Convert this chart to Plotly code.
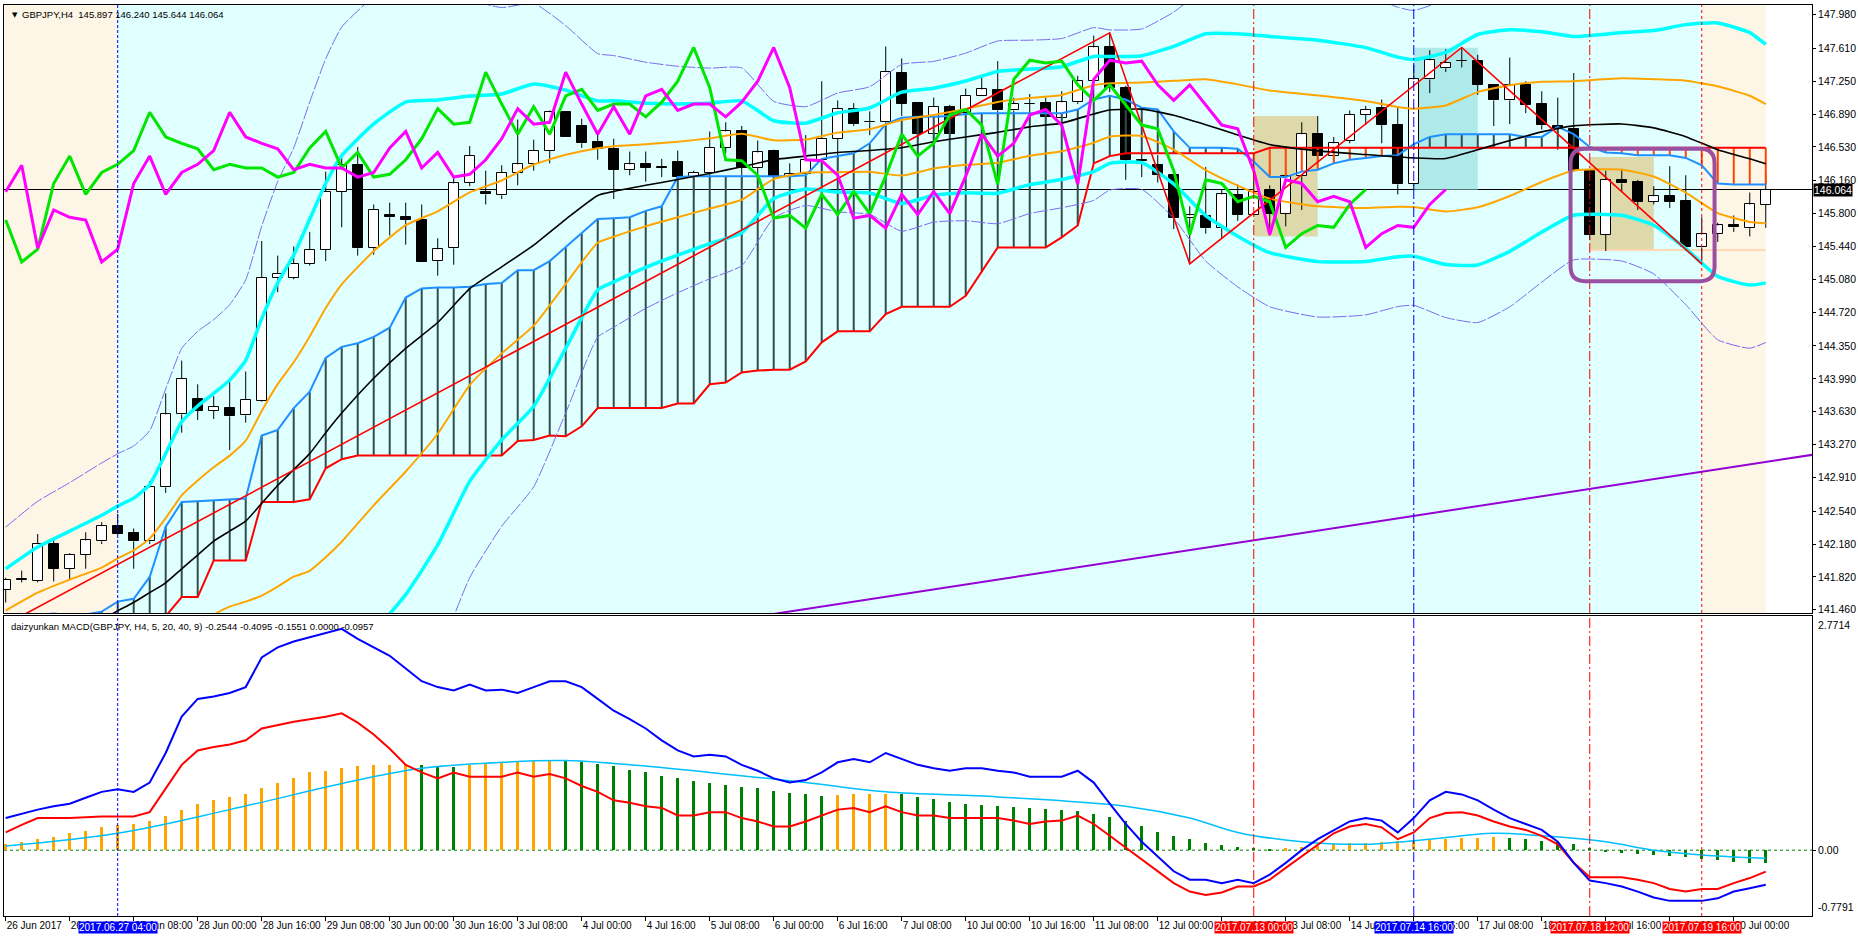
import plotly.graph_objects as go

# ---------------- data ----------------
tick_bars = list(range(0, 111, 4))
tick_labels = ["26 Jun 2017", "26 Jun 16:00", "27 Jun 08:00", "28 Jun 00:00", "28 Jun 16:00",
               "29 Jun 08:00", "30 Jun 00:00", "30 Jun 16:00", "3 Jul 08:00", "4 Jul 00:00",
               "4 Jul 16:00", "5 Jul 08:00", "6 Jul 00:00", "6 Jul 16:00", "7 Jul 08:00",
               "10 Jul 00:00", "10 Jul 16:00", "11 Jul 08:00", "12 Jul 00:00", "12 Jul 16:00",
               "13 Jul 08:00", "14 Jul 00:00", "14 Jul 16:00", "17 Jul 08:00", "18 Jul 00:00",
               "18 Jul 16:00", "19 Jul 08:00", "20 Jul 00:00"]

price_ticks = [147.980, 147.610, 147.250, 146.890, 146.530, 146.160, 145.800, 145.440, 145.080,
               144.720, 144.350, 143.990, 143.630, 143.270, 142.910, 142.540, 142.180, 141.820, 141.460]
macd_max, macd_min = 2.7714, -0.7791

opens = [141.68, 141.79, 141.78, 142.18, 141.91, 142.06, 142.21, 142.38, 142.30, 142.21,
         142.80, 143.60, 143.77, 143.64, 143.67, 143.59, 143.75, 145.09, 145.10, 145.25,
         145.40, 146.04, 146.33, 145.42, 145.79, 145.76, 145.73, 145.28, 145.42, 146.14,
         146.04, 146.00, 146.25, 146.34, 146.49, 146.91, 146.76, 146.58, 146.51, 146.28,
         146.34, 146.31, 146.36, 146.20, 146.25, 146.52, 146.70, 146.30, 146.49, 146.20,
         146.23, 146.39, 146.62, 146.95, 146.80, 146.80, 147.34, 147.01, 146.67, 146.97,
         146.90, 147.09, 147.15, 146.93, 147.00, 147.01, 146.85, 147.02, 147.25, 147.62,
         147.18, 146.39, 146.33, 146.22, 145.75, 145.77, 145.64, 146.00, 145.79, 146.06,
         145.80, 146.21, 146.67, 146.43, 146.60, 146.88, 146.96, 146.77, 146.12, 147.27,
         147.39, 147.47, 147.47, 147.21, 147.04, 147.21, 147.00, 146.76, 146.73, 146.27,
         145.57, 146.17, 146.15, 145.93, 145.99, 145.94, 145.43, 145.58, 145.67, 145.64,
         145.897]
highs = [141.81, 141.89, 142.29, 142.24, 142.08, 142.31, 142.42, 142.51, 142.35, 142.87,
         143.83, 144.19, 143.93, 143.80, 143.98, 144.07, 145.50, 145.34, 145.44, 145.60,
         146.26, 146.46, 146.53, 145.90, 145.92, 145.92, 145.90, 145.53, 146.20, 146.54,
         146.27, 146.33, 146.83, 146.61, 146.93, 146.92, 146.84, 146.67, 146.62, 146.48,
         146.48, 146.40, 146.49, 146.27, 146.70, 146.80, 146.76, 146.60, 146.50, 146.35,
         146.66, 147.25, 147.04, 147.01, 146.92, 147.63, 147.50, 147.01, 147.07, 146.99,
         147.17, 147.31, 147.47, 147.07, 147.11, 147.07, 147.14, 147.31, 147.75, 147.78,
         147.20, 146.51, 146.44, 146.23, 145.88, 146.31, 146.06, 146.12, 146.37, 146.11,
         146.23, 146.80, 146.87, 146.64, 146.93, 146.98, 147.05, 146.97, 147.43, 147.59,
         147.60, 147.62, 147.54, 147.21, 147.51, 147.25, 147.14, 147.07, 147.34, 146.29,
         146.27, 146.29, 146.17, 146.10, 146.32, 146.22, 145.76, 145.70, 145.78, 146.03,
         146.240]
lows = [141.54, 141.76, 141.76, 141.77, 141.79, 141.91, 142.18, 142.28, 141.91, 142.18,
        142.74, 143.40, 143.54, 143.55, 143.21, 143.51, 143.74, 144.94, 145.08, 145.23,
        145.28, 145.65, 145.34, 145.35, 145.56, 145.46, 145.27, 145.12, 145.24, 146.10,
        145.90, 145.96, 146.11, 146.27, 146.35, 146.64, 146.52, 146.39, 145.96, 146.22,
        146.15, 146.20, 146.01, 146.00, 146.15, 146.46, 146.09, 146.13, 146.18, 146.09,
        146.15, 146.26, 146.15, 146.76, 146.66, 146.78, 146.87, 146.39, 146.49, 146.65,
        146.87, 147.09, 146.87, 146.78, 146.72, 146.85, 146.83, 147.00, 147.05, 147.13,
        146.17, 146.20, 146.14, 145.63, 145.25, 145.58, 145.53, 145.72, 145.78, 145.56,
        145.66, 145.84, 146.37, 146.36, 146.57, 146.77, 146.57, 146.01, 146.06, 147.12,
        147.35, 147.40, 147.10, 146.76, 146.78, 146.90, 146.72, 146.50, 146.26, 145.51,
        145.39, 146.04, 145.84, 145.90, 145.86, 145.39, 145.25, 145.49, 145.60, 145.55,
        145.644]
closes = [141.79, 141.80, 142.18, 141.91, 142.06, 142.22, 142.38, 142.29, 142.21, 142.80,
          143.60, 143.99, 143.64, 143.68, 143.58, 143.76, 145.10, 145.14, 145.25, 145.40,
          146.04, 146.33, 145.42, 145.84, 145.76, 145.73, 145.27, 145.41, 146.13, 146.43,
          146.01, 146.25, 146.34, 146.49, 146.91, 146.64, 146.57, 146.51, 146.28, 146.34,
          146.30, 146.30, 146.20, 146.25, 146.52, 146.70, 146.30, 146.47, 146.20, 146.23,
          146.39, 146.62, 146.95, 146.78, 146.80, 147.35, 147.00, 146.67, 146.97, 146.67,
          147.09, 147.16, 146.93, 147.00, 147.00, 146.86, 147.02, 147.25, 147.62, 147.18,
          146.39, 146.38, 146.22, 145.75, 145.78, 145.64, 146.01, 145.79, 146.04, 145.80,
          146.21, 146.67, 146.43, 146.57, 146.88, 146.94, 146.77, 146.12, 147.27, 147.48,
          147.45, 147.47, 147.21, 147.04, 147.21, 146.99, 146.77, 146.73, 146.27, 145.57,
          146.17, 146.13, 145.93, 145.99, 145.93, 145.43, 145.58, 145.67, 145.65, 145.90,
          146.064]

# Bollinger middle line and +2 sigma band, read at these bars
bb_x = [0, 2, 4, 6, 7, 8, 9, 10, 11, 12, 13, 14, 15, 16, 17, 18, 19, 20, 21, 23,
        25, 27, 29, 31, 33, 35, 37, 38, 40, 42, 44, 46, 48, 50, 52, 54, 56, 58, 60, 62,
        64, 66, 68, 69, 71, 73, 75, 77, 79, 82, 85, 87, 88, 90, 92, 94, 96, 98, 101, 103,
        105, 107, 109, 110]
bb_mid = [140.995, 141.147, 141.26, 141.35, 141.45, 141.54, 141.648, 141.756, 141.909, 142.06,
          142.213, 142.322, 142.431, 142.627, 142.823, 142.997, 143.171, 143.40, 143.615, 143.997,
          144.324, 144.607, 144.977, 145.216, 145.455, 145.738, 145.999, 146.043, 146.11, 146.173,
          146.24, 146.313, 146.391, 146.43, 146.47, 146.491, 146.521, 146.587, 146.64, 146.69,
          146.75, 146.791, 146.891, 146.935, 146.944, 146.878, 146.774, 146.661, 146.556, 146.487,
          146.447, 146.421, 146.41, 146.404, 146.50, 146.60, 146.695, 146.761, 146.782, 146.739,
          146.643, 146.50, 146.40, 146.347]
bb_up2 = [141.909, 142.148, 142.322, 142.496, 142.596, 142.683, 142.831, 143.171, 143.519, 143.693,
          143.83, 143.976, 144.193, 144.65, 145.042, 145.346, 145.738, 146.13, 146.434, 146.782,
          147.022, 147.044, 147.087, 147.11, 147.22, 147.152, 147.035, 147.035, 147.009, 147.0,
          147.009, 147.035, 146.817, 146.791, 146.904, 146.957, 147.13, 147.174, 147.252, 147.357,
          147.383, 147.409, 147.522, 147.52, 147.53, 147.631, 147.77, 147.77, 147.74, 147.70,
          147.618, 147.514, 147.487, 147.566, 147.762, 147.814, 147.792, 147.74, 147.783, 147.805,
          147.87, 147.888, 147.783, 147.653]

# Ichimoku-style cloud lines (one value per bar)
span_a = [141.39, 141.39, 141.40, 141.42, 141.40, 141.41, 141.44, 141.55, 141.58, 141.82,
          142.37, 142.64, 142.65, 142.66, 142.67, 142.68, 143.37, 143.43, 143.67, 143.85,
          144.22, 144.34, 144.38, 144.45, 144.55, 144.88, 144.98, 144.99, 144.99, 145.00,
          145.03, 145.04, 145.18, 145.18, 145.28, 145.43, 145.58, 145.74, 145.75, 145.76,
          145.83, 145.88, 146.20, 146.21, 146.21, 146.21, 146.21, 146.21, 146.21, 146.21,
          146.22, 146.40, 146.43, 146.46, 146.57, 146.78, 146.85, 146.86, 146.86, 146.87,
          146.89, 146.90, 146.90, 146.90, 146.90, 146.90, 146.90, 146.94, 147.05, 147.09,
          147.05, 146.96, 146.94, 146.70, 146.52, 146.52, 146.52, 146.51, 146.37, 146.20,
          146.20, 146.26, 146.28, 146.35, 146.39, 146.41, 146.43, 146.44, 146.56, 146.64,
          146.67, 146.67, 146.67, 146.67, 146.67, 146.64, 146.64, 146.75, 146.67, 146.53,
          146.47, 146.46, 146.44, 146.44, 146.44, 146.41, 146.33, 146.13, 146.12, 146.12,
          146.12]
span_b = [141.20, 141.20, 141.20, 141.20, 141.20, 141.20, 141.20, 141.20, 141.20, 141.20,
          141.39, 141.60, 141.60, 142.00, 142.00, 142.00, 142.64, 142.64, 142.64, 142.67,
          143.01, 143.11, 143.15, 143.15, 143.15, 143.15, 143.15, 143.15, 143.15, 143.15,
          143.15, 143.15, 143.31, 143.32, 143.37, 143.36, 143.47, 143.67, 143.67, 143.67,
          143.67, 143.67, 143.72, 143.72, 143.93, 143.95, 144.06, 144.08, 144.09, 144.09,
          144.18, 144.39, 144.51, 144.51, 144.51, 144.70, 144.78, 144.78, 144.78, 144.78,
          144.90, 145.17, 145.43, 145.43, 145.43, 145.43, 145.54, 145.67, 146.35, 146.43,
          146.46, 146.46, 146.46, 146.46, 146.46, 146.46, 146.46, 146.46, 146.46, 146.52,
          146.52, 146.52, 146.52, 146.52, 146.52, 146.52, 146.52, 146.52, 146.52, 146.52,
          146.52, 146.52, 146.52, 146.52, 146.52, 146.52, 146.52, 146.52, 146.52, 146.52,
          146.52, 146.52, 146.52, 146.52, 146.52, 146.52, 146.52, 146.52, 146.52, 146.52,
          146.52]

zigzag_x = [0, 69, 74, 91, 106]
zigzag_y = [141.30, 147.78, 145.25, 147.62, 145.25]

trend_x = [40, 113]
trend_y = [141.20, 143.16]

# lagging lines: closes shifted back (green 25 bars, magenta 20 bars)
green_shift = 25
magenta_shift = 20

# MACD panel (one value per bar)
macd_blue = [0.38, 0.43, 0.48, 0.52, 0.55, 0.62, 0.69, 0.72, 0.69, 0.80,
             1.15, 1.58, 1.79, 1.82, 1.86, 1.93, 2.28, 2.40, 2.47, 2.52,
             2.57, 2.62, 2.50, 2.40, 2.30, 2.15, 2.00, 1.93, 1.89, 1.96,
             1.89, 1.90, 1.86, 1.93, 2.00, 2.00, 1.93, 1.79, 1.65, 1.55,
             1.44, 1.30, 1.18, 1.11, 1.13, 1.11, 1.01, 0.94, 0.85, 0.80,
             0.83, 0.92, 1.04, 1.08, 1.04, 1.15, 1.08, 1.01, 0.97, 0.94,
             0.97, 0.97, 0.94, 0.92, 0.87, 0.87, 0.87, 0.94, 0.80, 0.55,
             0.31, 0.10, -0.07, -0.25, -0.35, -0.35, -0.39, -0.35, -0.39, -0.29,
             -0.15, 0.00, 0.13, 0.24, 0.34, 0.38, 0.35, 0.21, 0.38, 0.59,
             0.69, 0.66, 0.59, 0.48, 0.38, 0.31, 0.24, 0.10, -0.15, -0.36,
             -0.39, -0.43, -0.49, -0.56, -0.60, -0.60, -0.60, -0.57, -0.49, -0.45,
             -0.4095]
macd_red = [0.21, 0.30, 0.38, 0.38, 0.38, 0.39, 0.40, 0.40, 0.40, 0.45,
            0.73, 1.01, 1.18, 1.22, 1.25, 1.30, 1.44, 1.48, 1.52, 1.55,
            1.58, 1.62, 1.51, 1.37, 1.20, 1.01, 0.92, 0.85, 0.92, 0.87,
            0.87, 0.87, 0.92, 0.87, 0.90, 0.85, 0.76, 0.69, 0.59, 0.56,
            0.52, 0.50, 0.41, 0.41, 0.45, 0.45, 0.38, 0.34, 0.28, 0.28,
            0.34, 0.41, 0.48, 0.50, 0.45, 0.52, 0.45, 0.41, 0.41, 0.38,
            0.38, 0.38, 0.38, 0.35, 0.31, 0.34, 0.35, 0.41, 0.31, 0.17,
            0.03, -0.11, -0.25, -0.39, -0.49, -0.53, -0.50, -0.43, -0.43, -0.35,
            -0.21, -0.07, 0.07, 0.20, 0.28, 0.31, 0.27, 0.13, 0.21, 0.38,
            0.44, 0.45, 0.41, 0.34, 0.28, 0.24, 0.17, 0.07, -0.15, -0.32,
            -0.32, -0.32, -0.35, -0.39, -0.46, -0.49, -0.46, -0.46, -0.39, -0.33,
            -0.2544]
macd_hist = [0.07, 0.10, 0.13, 0.16, 0.20, 0.23, 0.27, 0.30, 0.31, 0.35,
             0.41, 0.48, 0.55, 0.59, 0.63, 0.66, 0.73, 0.80, 0.86, 0.92,
             0.94, 0.97, 1.00, 1.005, 1.01, 1.02, 1.01, 1.00, 0.99, 1.01,
             1.03, 1.04, 1.05, 1.06, 1.065, 1.06, 1.04, 1.02, 1.00, 0.95,
             0.92, 0.88, 0.85, 0.82, 0.80, 0.77, 0.75, 0.73, 0.70, 0.68,
             0.66, 0.64, 0.65, 0.66, 0.665, 0.67, 0.66, 0.63, 0.60, 0.57,
             0.55, 0.53, 0.52, 0.51, 0.50, 0.49, 0.48, 0.46, 0.43, 0.39,
             0.35, 0.29, 0.22, 0.17, 0.13, 0.09, 0.06, 0.04, 0.03, 0.01,
             0.02, 0.04, 0.05, 0.07, 0.08, 0.09, 0.10, 0.105, 0.11, 0.12,
             0.13, 0.14, 0.145, 0.15, 0.145, 0.13, 0.11, 0.10, 0.07, 0.03,
             -0.01, -0.03, -0.04, -0.06, -0.07, -0.08, -0.11, -0.12, -0.14, -0.15,
             -0.1551]
signal_x = [0, 7, 14, 22, 26, 31, 35, 39, 44, 50, 55, 62, 70, 74, 77, 81, 85, 89, 93, 96, 100, 103, 107, 110]
signal_y = [0.05, 0.20, 0.48, 0.83, 0.97, 1.04, 1.06, 1.01, 0.92, 0.80, 0.69, 0.63, 0.52, 0.38, 0.21,
            0.10, 0.07, 0.13, 0.20, 0.17, 0.10, 0.00, -0.07, -0.0957]

# chart objects (bar index, price)
vlines = [(7, "#0000FF", "3px,2px", "2017.06.27 04:00"),
          (78, "#FF0000", "10px,3px,2px,3px", "2017.07.13 00:00"),
          (88, "#0000FF", "10px,3px,2px,3px", "2017.07.14 16:00"),
          (99, "#FF0000", "10px,3px,2px,3px", "2017.07.18 12:00"),
          (106, "#FF0000", "3px,3px", "2017.07.19 16:00")]
zone_left = (-1, 7)
zone_mid = (7, 106)
zone_right = (106, 110)
box_tan1 = (78, 82, 145.55, 146.87)
box_cyan = (88, 92, 146.064, 147.618)
box_tan2 = (99, 103, 145.40, 146.42)
hline_peach = (99, 110, 145.40)
focus_box = (97.8, 106.8, 145.06, 146.51)
last_price = 146.064

# ---------------- figure ----------------
n = len(closes)
bars = list(range(n))
fig = go.Figure()

# candle bodies
body_base = [min(o, c) for o, c in zip(opens, closes)]
body_h = [max(abs(c - o), 0.006) for o, c in zip(opens, closes)]
body_col = ["white" if c > o else "black" for o, c in zip(opens, closes)]
fig.add_trace(go.Bar(x=bars, y=body_h, base=body_base, width=0.6,
                     marker=dict(color=body_col, line=dict(color="black", width=1)),
                     xaxis="x", yaxis="y", hoverinfo="skip"))
# wicks
wx, wy = [], []
for i in bars:
    top = max(opens[i], closes[i]); bot = min(opens[i], closes[i])
    wx += [i, i, None, i, i, None]
    wy += [highs[i], top, None, bot, lows[i], None]
fig.add_trace(go.Scatter(x=wx, y=wy, mode="lines", line=dict(color="black", width=1),
                         xaxis="x", yaxis="y", hoverinfo="skip"))

# cloud hatch
hx_d, hy_d, hx_r, hy_r = [], [], [], []
for i in bars:
    if span_a[i] >= span_b[i]:
        hx_d += [i, i, None]; hy_d += [span_a[i], span_b[i], None]
    else:
        hx_r += [i, i, None]; hy_r += [span_a[i], span_b[i], None]
fig.add_trace(go.Scatter(x=hx_d, y=hy_d, mode="lines", line=dict(color="#2F4F4F", width=2), hoverinfo="skip"))
fig.add_trace(go.Scatter(x=hx_r, y=hy_r, mode="lines", line=dict(color="#FF4500", width=2), hoverinfo="skip"))
fig.add_trace(go.Scatter(x=bars, y=span_a, mode="lines", line=dict(color="#1E90FF", width=2), hoverinfo="skip"))
fig.add_trace(go.Scatter(x=bars, y=span_b, mode="lines", line=dict(color="#FF0000", width=2), hoverinfo="skip"))

# Bollinger family
sd = [(u - m) / 2 for u, m in zip(bb_up2, bb_mid)]
def band(k):
    return [m + k * s for m, s in zip(bb_mid, sd)]
for k, col, w, dash in [(3, "#7B68EE", 1, "14px,2px"), (-3, "#7B68EE", 1, "14px,2px"),
                        (2, "#00FFFF", 3.5, "solid"), (-2, "#00FFFF", 3.5, "solid"),
                        (1, "#FFA500", 2, "solid"), (-1, "#FFA500", 2, "solid")]:
    fig.add_trace(go.Scatter(x=bb_x, y=band(k), mode="lines", line_shape="spline",
                             line=dict(color=col, width=w, dash=dash, smoothing=0.5), hoverinfo="skip"))
fig.add_trace(go.Scatter(x=bb_x, y=bb_mid, mode="lines", line_shape="spline",
                         line=dict(color="black", width=1.6, smoothing=0.5), hoverinfo="skip"))

# zigzag and trendline
fig.add_trace(go.Scatter(x=zigzag_x, y=zigzag_y, mode="lines", line=dict(color="#FF0000", width=1.6), hoverinfo="skip"))
fig.add_trace(go.Scatter(x=trend_x, y=trend_y, mode="lines", line=dict(color="#9400D3", width=2), hoverinfo="skip"))

# lagging lines
gx = list(range(n - green_shift)); gy = closes[green_shift:]
mx = list(range(n - magenta_shift)); my = closes[magenta_shift:]
fig.add_trace(go.Scatter(x=gx, y=gy, mode="lines", line=dict(color="#00E600", width=3), hoverinfo="skip"))
fig.add_trace(go.Scatter(x=mx, y=my, mode="lines", line=dict(color="#FF00FF", width=3), hoverinfo="skip"))

# MACD panel
hist_col = ["#FFA500" if (i == 0 or macd_hist[i] >= macd_hist[i - 1]) else "#008000" for i in bars]
fig.add_trace(go.Bar(x=bars, y=macd_hist, width=0.16, marker=dict(color=hist_col, line=dict(width=0)),
                     xaxis="x2", yaxis="y2", hoverinfo="skip"))
fig.add_trace(go.Scatter(x=signal_x, y=signal_y, mode="lines", line_shape="spline",
                         line=dict(color="#00BFFF", width=1.5), xaxis="x2", yaxis="y2", hoverinfo="skip"))
fig.add_trace(go.Scatter(x=bars, y=macd_red, mode="lines", line=dict(color="#FF0000", width=2),
                         xaxis="x2", yaxis="y2", hoverinfo="skip"))
fig.add_trace(go.Scatter(x=bars, y=macd_blue, mode="lines", line=dict(color="#0000FF", width=2),
                         xaxis="x2", yaxis="y2", hoverinfo="skip"))

# ---------------- shapes ----------------
shapes = []
for (a, b), col in [(zone_left, "#FDF5E6"), (zone_mid, "#E0FFFF"), (zone_right, "#FDF5E6")]:
    shapes.append(dict(type="rect", xref="x", yref="y domain", x0=a, x1=b, y0=0, y1=1,
                       fillcolor=col, line=dict(width=0), layer="below"))
for (x0, x1, y0, y1), col in [(box_tan1, "#DDD9AB"), (box_cyan, "#AFEAEA"), (box_tan2, "#DDD9AB")]:
    shapes.append(dict(type="rect", xref="x", yref="y", x0=x0, x1=x1, y0=y0, y1=y1,
                       fillcolor=col, line=dict(width=0), layer="below"))
shapes.append(dict(type="line", xref="x", yref="y", x0=hline_peach[0], x1=hline_peach[1],
                   y0=hline_peach[2], y1=hline_peach[2], line=dict(color="#FFD9B3", width=2), layer="below"))
shapes.append(dict(type="line", xref="x domain", yref="y", x0=0, x1=1, y0=last_price, y1=last_price,
                   line=dict(color="black", width=1), layer="below"))
shapes.append(dict(type="line", xref="x2 domain", yref="y2", x0=0, x1=1, y0=0, y1=0,
                   line=dict(color="#008000", width=1, dash="3px,3px"), layer="below"))
for b, col, dash, _ in vlines:
    for xr_, yr_ in [("x", "y domain"), ("x2", "y2 domain")]:
        shapes.append(dict(type="line", xref=xr_, yref=yr_, x0=b, x1=b, y0=0, y1=1,
                           line=dict(color=col, width=1, dash=dash), layer="above"))
fx0, fx1, fy0, fy1 = focus_box
rx, ry = 0.9, 0.16
path = (f"M {fx0+rx},{fy1} L {fx1-rx},{fy1} Q {fx1},{fy1} {fx1},{fy1-ry} L {fx1},{fy0+ry} "
        f"Q {fx1},{fy0} {fx1-rx},{fy0} L {fx0+rx},{fy0} Q {fx0},{fy0} {fx0},{fy0+ry} "
        f"L {fx0},{fy1-ry} Q {fx0},{fy1} {fx0+rx},{fy1} Z")
shapes.append(dict(type="path", xref="x", yref="y", path=path, line=dict(color="#9B4FA0", width=4),
                   fillcolor="rgba(0,0,0,0)", layer="above"))

# ---------------- annotations ----------------
FONT = "Liberation Sans, Arial, sans-serif"
YTICK = 10.5
XTICK = 10
ann = []
ann.append(dict(text="▼", xref="paper", yref="paper", x=0.0035, y=1, xanchor="left", yanchor="top",
                yshift=-4, showarrow=False, font=dict(size=7, color="black", family="DejaVu Sans")))
ann.append(dict(text="GBPJPY,H4\u00a0\u00a0145.897 146.240 145.644 146.064", xref="paper", yref="paper",
                x=0.0088, y=1, xanchor="left", yanchor="top", yshift=-2, showarrow=False,
                font=dict(size=9.5, color="black", family=FONT)))
ann.append(dict(text="daizyunkan MACD(GBPJPY, H4, 5, 20, 40, 9) -0.2544 -0.4095 -0.1551 0.0000 -0.0957",
                xref="paper", yref="paper", x=0.0028, y=0.3293, xanchor="left", yanchor="top", yshift=-3,
                showarrow=False, font=dict(size=9.5, color="black", family=FONT)))
ann.append(dict(text=f"{last_price:.3f}", xref="paper", yref="y", x=1, y=last_price, xanchor="left",
                yanchor="middle", xshift=1, showarrow=False, bgcolor="black", borderpad=0,
                font=dict(size=YTICK, color="white", family=FONT)))
ann.append(dict(text=f"{macd_max:.4f}", xref="paper", yref="y2", x=1, y=macd_max, xanchor="left",
                yanchor="top", xshift=4, yshift=-1, showarrow=False,
                font=dict(size=YTICK, color="black", family=FONT)))
ann.append(dict(text=f"{macd_min:.4f}", xref="paper", yref="y2", x=1, y=macd_min, xanchor="left",
                yanchor="bottom", xshift=4, yshift=1, showarrow=False,
                font=dict(size=YTICK, color="black", family=FONT)))
for b, col, dash, label in vlines:
    ann.append(dict(text=label, xref="x2", yref="paper", x=b, y=0, xanchor="center", yanchor="top",
                    yshift=-5, showarrow=False, bgcolor=col, borderpad=0,
                    font=dict(size=XTICK, color="white", family=FONT)))

xr = [-0.106, 112.89]
axis_common = dict(showgrid=False, zeroline=False, showline=True, mirror=True, linecolor="black",
                   linewidth=1, tickcolor="black", automargin=False)
fig.update_layout(
    width=1858, height=939, margin=dict(l=4, r=46, t=5, b=23),
    paper_bgcolor="white", plot_bgcolor="white", showlegend=False,
    font=dict(family=FONT, size=9.5, color="black"),
    bargap=0, barmode="overlay",
    xaxis=dict(domain=[0, 1], range=xr, anchor="y", showticklabels=False, ticks="", **axis_common),
    xaxis2=dict(domain=[0, 1], range=xr, anchor="y2", matches="x", tickmode="array", tickvals=tick_bars,
                ticktext=tick_labels, ticks="outside", ticklen=4, tickangle=0,
                ticklabelposition="outside right",
                tickfont=dict(size=XTICK, family=FONT, color="black"), **axis_common),
    yaxis=dict(domain=[0.3326, 1], range=[141.425, 148.085], anchor="x", side="right", tickmode="array",
               tickvals=price_ticks, ticktext=[f"{v:.3f}" for v in price_ticks], ticks="outside",
               ticklen=3, tickfont=dict(size=YTICK, family=FONT, color="black"), **axis_common),
    yaxis2=dict(domain=[0, 0.3293], range=[macd_min, macd_max], anchor="x2", side="right", tickmode="array",
                tickvals=[0.0], ticktext=["0.00"], ticks="outside", ticklen=3,
                tickfont=dict(size=YTICK, family=FONT, color="black"), **axis_common),
    shapes=shapes, annotations=ann,
)
fig.write_html("out.html")
